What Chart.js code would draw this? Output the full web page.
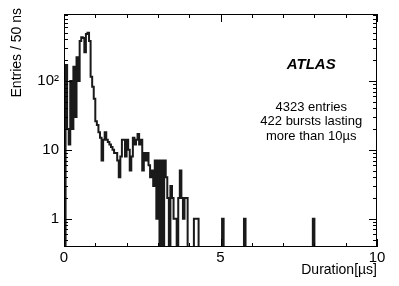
<!DOCTYPE html>
<html>
<head>
<meta charset="utf-8">
<script src="https://cdn.jsdelivr.net/npm/chart.js@4/dist/chart.umd.min.js"></script>
<style>
html,body{margin:0;padding:0;background:#fff;}
#wrap{width:399px;height:286px;position:relative;}
</style>
</head>
<body>
<div id="wrap"><canvas id="c" width="399" height="286"></canvas></div>
<script>
// ---- data ----
const binWidth = 0.05; // µs (50 ns)
const counts = [
  0,170,20,12,100,20,160,30,220,100,380,430,420,260,480,500,380,115,82,55,
  26,23,18,15,7,14,18,14,13,12,11,10,9,9,7,4,8,14,14,8,
  14,10,5,8,15,12,14,17,12,14,5,9,7,9,6,4,5,3,7,1,
  7,0,7,0,7,4,2,0,3,2,1,1,0,2,5,2,1,2,2,0,
  0,0,0,1,1,1,0,0,0,0,0,0,0,0,0,0,0,0,0,0,
  0,1,0,0,0,0,0,0,0,0,0,0,0,0,0,1,0,0,0,0,
  0,0,0,0,0,0,0,0,0,0,0,0,0,0,0,0,0,0,0,0,
  0,0,0,0,0,0,0,0,0,0,0,0,0,0,0,0,0,0,0,1,
  0,0,0,0,0,0,0,0,0,0,0,0,0,0,0,0,0,0,0,0,
  0,0,0,0,0,0,0,0,0,0,0,0,0,0,0,0,0,0,0,0
];
const xTickLabels = [0, 5, 10];
const xMinorTicks = [1, 2, 3, 4, 6, 7, 8, 9];
const yLabelTicks = [1, 10, 100];
const yLabelText = {1: '1', 10: '10', 100: '10\u00B2'};
const yMinorTicks = [0.4,0.5,0.6,0.7,0.8,0.9,2,3,4,5,6,7,8,9,20,30,40,50,60,70,80,90,200,300,400,500,600,700,800,900];
const xTitle = 'Duration[\u00B5s]';
const yTitle = 'Entries / 50 ns';
const experiment = 'ATLAS';
const noteLines = ['4323 entries', '422 bursts lasting', 'more than 10\u00B5s'];
const xRange = [0, 10];
const yRange = [0.39, 935];

// histogram points (left edges) + closing edge; empty bins sit on the axis floor (log scale)
const floorVal = v => (v > 0 ? v : yRange[0]);
const points = counts.map((c, i) => ({x: i * binWidth, y: floorVal(c)}));
points.push({x: counts.length * binWidth, y: floorVal(counts[counts.length - 1])});

const FONT = "'Liberation Sans', Arial, Helvetica, sans-serif";

const framePlugin = {
  id: 'frame',
  afterDraw(chart) {
    const {ctx, chartArea: a, scales: {x, y}} = chart;
    ctx.save();
    ctx.strokeStyle = '#000';
    ctx.lineWidth = 1;
    ctx.strokeRect(a.left + 0.5, a.top + 0.5, a.right - a.left - 1, a.bottom - a.top - 1);
    ctx.beginPath();
    const tick = (px, len, horiz) => {
      if (horiz) {
        ctx.moveTo(px, a.bottom); ctx.lineTo(px, a.bottom - len);
        ctx.moveTo(px, a.top); ctx.lineTo(px, a.top + len);
      } else {
        ctx.moveTo(a.left, px); ctx.lineTo(a.left + len, px);
        ctx.moveTo(a.right, px); ctx.lineTo(a.right - len, px);
      }
    };
    xTickLabels.forEach(v => tick(Math.round(x.getPixelForValue(v)) + 0.5, 8, true));
    xMinorTicks.forEach(v => tick(Math.round(x.getPixelForValue(v)) + 0.5, 4, true));
    yLabelTicks.forEach(v => tick(Math.round(y.getPixelForValue(v)) + 0.5, 8, false));
    yMinorTicks.forEach(v => tick(Math.round(y.getPixelForValue(v)) + 0.5, 4, false));
    ctx.stroke();

    // y-axis title
    ctx.fillStyle = '#000';
    ctx.font = "14px " + FONT;
    ctx.save();
    ctx.translate(17, 8);
    ctx.rotate(-Math.PI / 2);
    ctx.textAlign = 'right';
    ctx.textBaseline = 'middle';
    ctx.fillText(yTitle, 0, 0);
    ctx.restore();

    // annotations
    const cx = a.left + (a.right - a.left) * 0.79;
    ctx.textAlign = 'center';
    ctx.textBaseline = 'middle';
    ctx.font = "italic bold 15px " + FONT;
    ctx.fillText(experiment, cx, 65);
    ctx.font = "13px " + FONT;
    noteLines.forEach((t, i) => ctx.fillText(t, cx, 107 + i * 14.5));
    ctx.restore();
  }
};

new Chart(document.getElementById('c'), {
  type: 'line',
  data: {
    datasets: [{
      data: points,
      stepped: true,
      borderColor: '#1a1a1a',
      borderWidth: 2,
      pointRadius: 0,
      fill: false,
      tension: 0
    }]
  },
  options: {
    responsive: false,
    animation: false,
    events: [],
    layout: {padding: {left: 0, right: 22, top: 14, bottom: 0}},
    plugins: {legend: {display: false}, tooltip: {enabled: false}},
    scales: {
      x: {
        type: 'linear',
        min: xRange[0], max: xRange[1],
        grid: {display: false, drawTicks: false},
        border: {display: false},
        afterBuildTicks: s => { s.ticks = xTickLabels.map(v => ({value: v})); },
        afterFit: s => { s.height = 39; },
        ticks: {color: '#000', font: {family: FONT, size: 15}, padding: 2, maxRotation: 0},
        title: {display: true, text: xTitle, align: 'end', color: '#000',
                font: {family: FONT, size: 14}, padding: {top: 0, bottom: 7}}
      },
      y: {
        type: 'logarithmic',
        min: yRange[0], max: yRange[1],
        grid: {display: false, drawTicks: false},
        border: {display: false},
        afterBuildTicks: s => { s.ticks = yLabelTicks.map(v => ({value: v})); },
        afterFit: s => { s.width = 64; },
        ticks: {color: '#000', font: {family: FONT, size: 15}, padding: 5,
                callback: v => yLabelText[v] || ''}
      }
    }
  },
  plugins: [framePlugin]
});
</script>
</body>
</html>
